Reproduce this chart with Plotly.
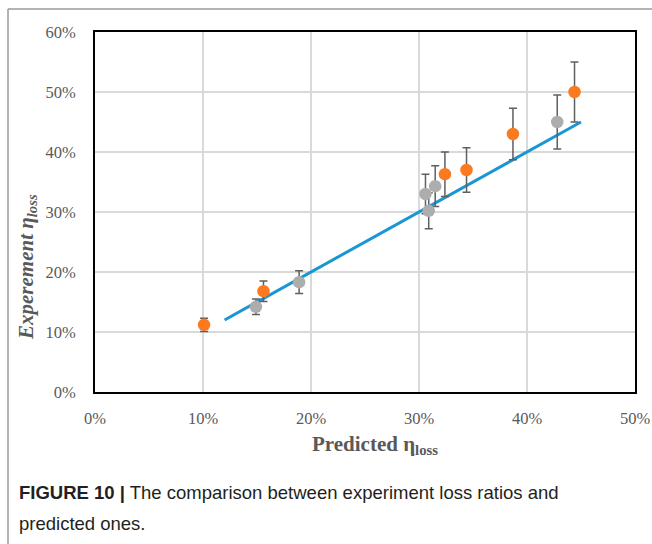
import plotly.graph_objects as go

# Data (percent)
orange_x = [10.1, 15.6, 32.4, 34.4, 38.7, 44.4]
orange_y = [11.2, 16.8, 36.3, 37.0, 43.0, 50.0]
orange_err = [1.1, 1.7, 3.7, 3.7, 4.3, 5.0]

gray_x = [14.9, 18.9, 30.6, 30.9, 31.5, 42.8]
gray_y = [14.2, 18.3, 33.0, 30.2, 34.3, 45.0]
gray_err = [1.3, 1.9, 3.3, 3.0, 3.4, 4.5]

line_x = [12, 45]
line_y = [12, 45]

x_ticks = [0, 10, 20, 30, 40, 50]
x_labels = ["0%", "10%", "20%", "30%", "40%", "50%"]
y_ticks = [0, 10, 20, 30, 40, 50, 60]
y_labels = ["0%", "10%", "20%", "30%", "40%", "50%", "60%"]

tick_font = dict(family="Liberation Serif", size=16.5, color="#595959")
err_color = "#5f5f5f"

fig = go.Figure()
fig.add_trace(go.Scatter(x=line_x, y=line_y, mode="lines",
                         line=dict(color="#1B96D4", width=3), showlegend=False))
fig.add_trace(go.Scatter(x=gray_x, y=gray_y, mode="markers",
                         marker=dict(color="#ADADAD", size=12.5),
                         error_y=dict(type="data", array=gray_err, color=err_color,
                                      thickness=1.5, width=4),
                         showlegend=False))
fig.add_trace(go.Scatter(x=orange_x, y=orange_y, mode="markers",
                         marker=dict(color="#FB7A1F", size=12.5),
                         error_y=dict(type="data", array=orange_err, color=err_color,
                                      thickness=1.5, width=4),
                         showlegend=False))

fig.update_xaxes(range=[0, 50], tickmode="array", tickvals=x_ticks, ticktext=x_labels,
                 showgrid=True, gridcolor="#D9D9D9", gridwidth=1.5,
                 showline=True, linecolor="black", linewidth=2, mirror=True,
                 zeroline=False, tickfont=tick_font, ticks="", ticklabelstandoff=10,
                 automargin=False)
fig.update_yaxes(range=[0, 60], tickmode="array", tickvals=y_ticks, ticktext=y_labels,
                 showgrid=True, gridcolor="#D9D9D9", gridwidth=1.5,
                 showline=True, linecolor="black", linewidth=2, mirror=True,
                 zeroline=False, tickfont=tick_font, ticks="", ticklabelstandoff=14,
                 automargin=False)

W, H = 652, 544
L, R, T, B = 95, 17, 32, 152
pw, ph = W - L - R, H - T - B

def px(x):
    return (x - L) / pw

def py(y):
    return (H - B - y) / ph

annotations = [
    dict(text="<b>Predicted η<sub>loss</sub></b>", x=px(375), y=py(445),
         xref="paper", yref="paper", showarrow=False, xanchor="center", yanchor="middle",
         font=dict(family="Liberation Serif", size=21, color="#595959")),
    dict(text="<b><i>Experement η<sub>loss</sub></i></b>", x=px(27), y=py(267),
         xref="paper", yref="paper", showarrow=False, xanchor="center", yanchor="middle",
         textangle=-90, font=dict(family="Liberation Serif", size=21, color="#595959")),
    dict(text="<b>FIGURE 10 |</b> The comparison between experiment loss ratios and",
         x=px(17), y=py(493), xref="paper", yref="paper", showarrow=False,
         xanchor="left", yanchor="middle",
         font=dict(family="Liberation Sans", size=18.5, color="#231F20")),
    dict(text="predicted ones.",
         x=px(17), y=py(523), xref="paper", yref="paper", showarrow=False,
         xanchor="left", yanchor="middle",
         font=dict(family="Liberation Sans", size=18.5, color="#231F20")),
]

shapes = [
    dict(type="line", xref="paper", yref="paper", x0=px(8), x1=px(700), y0=py(9), y1=py(9),
         line=dict(color="#9a9a9a", width=1.5)),
    dict(type="line", xref="paper", yref="paper", x0=px(8), x1=px(8), y0=py(9), y1=py(700),
         line=dict(color="#9a9a9a", width=1.5)),
]

fig.update_layout(width=W, height=H, margin=dict(l=L, r=R, t=T, b=B),
                  paper_bgcolor="white", plot_bgcolor="white",
                  annotations=annotations, shapes=shapes, showlegend=False)

fig.write_html("out.html")
